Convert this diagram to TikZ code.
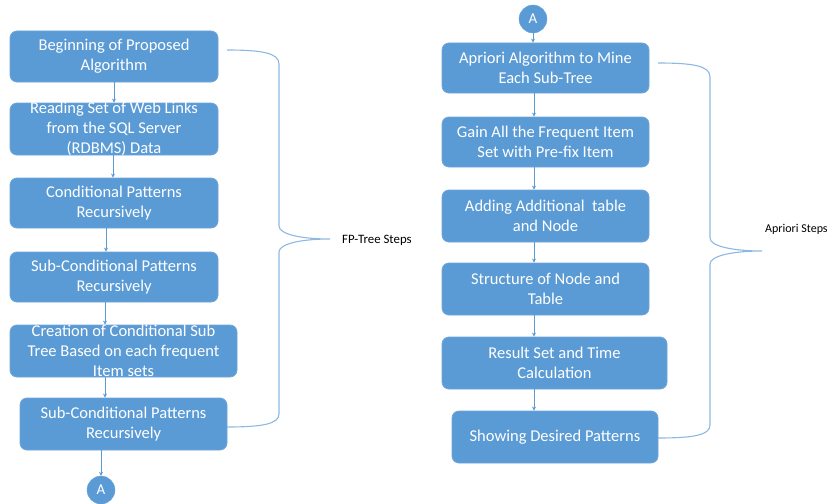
\documentclass[tikz,border=0pt]{standalone}
\usepackage{fontspec}
\setmainfont{Carlito}
\usetikzlibrary{arrows.meta}
\definecolor{boxfill}{HTML}{5B9BD5}
\definecolor{boxline}{HTML}{6FA6DA}
\definecolor{braceblue}{HTML}{8DB8E2}
\definecolor{connblue}{HTML}{5B9BD5}
\tikzset{
  stepbox/.style={draw=boxline, line width=0.8pt, fill=boxfill, rounded corners=7pt, inner sep=0pt},
  steptext/.style={text=white, align=center, font=\fontsize{16.5}{20}\selectfont, inner sep=0pt},
  conn/.style={draw=connblue, line width=0.8pt, -{Stealth[length=4pt,width=4pt]}},
  circ/.style={circle, fill=boxfill, draw=boxline, minimum size=28pt, inner sep=0pt, text=white, font=\fontsize{15}{16}\selectfont},
  brace/.style={draw=braceblue, line width=1.1pt},
  bracelabel/.style={font=\fontsize{12.8}{14}\selectfont, anchor=west, inner sep=0pt}
}
\begin{document}
\begin{tikzpicture}[x=1pt,y=-1pt]
\useasboundingbox (0,0) rectangle (829,503);
% left column
\node[stepbox, minimum width=208pt, minimum height=51pt] (l1) at (114,56.5) {};
\node[steptext] at (l1) {Beginning of Proposed\\Algorithm};
\node[stepbox, minimum width=208pt, minimum height=52pt] (l2) at (114,129) {};
\node[steptext] at (l2) {Reading Set of Web Links\\from the SQL Server\\(RDBMS) Data};
\node[stepbox, minimum width=208pt, minimum height=50pt] (l3) at (114,203) {};
\node[steptext] at (l3) {Conditional Patterns\\Recursively};
\node[stepbox, minimum width=208pt, minimum height=50pt] (l4) at (114,277) {};
\node[steptext] at (l4) {Sub-Conditional Patterns\\Recursively};
\node[stepbox, minimum width=227pt, minimum height=52pt] (l5) at (123.5,351) {};
\node[steptext] at (l5) {Creation of Conditional Sub\\Tree Based on each frequent\\Item sets};
\node[stepbox, minimum width=207pt, minimum height=52pt] (l6) at (123.5,424) {};
\node[steptext] at (l6) {Sub-Conditional Patterns\\Recursively};
\node[circ] (al) at (101,490) {A};
% right column
\node[circ] (ar) at (533,19) {A};
\node[stepbox, minimum width=207pt, minimum height=50pt] (r1) at (545.5,68) {};
\node[steptext] at (r1) {Apriori Algorithm to Mine\\Each Sub-Tree};
\node[stepbox, minimum width=207pt, minimum height=50pt] (r2) at (545.5,142) {};
\node[steptext] at (r2) {Gain All the Frequent Item\\Set with Pre-fix Item};
\node[stepbox, minimum width=207pt, minimum height=52pt] (r3) at (545.5,216) {};
\node[steptext] at (r3) {Adding Additional~~table\\and Node};
\node[stepbox, minimum width=207pt, minimum height=52pt] (r4) at (545.5,289) {};
\node[steptext] at (r4) {Structure of Node and\\Table};
\node[stepbox, minimum width=225pt, minimum height=52pt] (r5) at (554.5,363) {};
\node[steptext] at (r5) {Result Set and Time\\Calculation};
\node[stepbox, minimum width=206pt, minimum height=52pt] (r6) at (555,437) {};
\node[steptext] at (r6) {Showing Desired Patterns};
% connectors left
\draw[conn] (l1.south) -- (l2.north);
\draw[conn] ([xshift=-1pt]l2.south) -- ([xshift=-1pt]l3.north);
\draw[conn] ([xshift=-8pt]l3.south) -- ([xshift=-8pt]l4.north);
\draw[conn] ([xshift=-9pt]l4.south) -- ([xshift=-9pt]l4.south |- l5.north);
\draw[conn] ([xshift=-18.5pt]l5.south) -- ([xshift=-18.5pt]l6.north);
\draw[conn] ([xshift=-22.5pt]l6.south) -- (al.north);
% connectors right
\draw[conn] (ar.south) -- (ar.south |- r1.north);
\draw[conn] ([xshift=-11.5pt]r1.south) -- ([xshift=-11.5pt]r2.north);
\draw[conn] ([xshift=-11.5pt]r2.south) -- ([xshift=-11.5pt]r3.north);
\draw[conn] ([xshift=-11.5pt]r3.south) -- ([xshift=-11.5pt]r4.north);
\draw[conn] ([xshift=-11.5pt]r4.south) -- ([xshift=-11.5pt]r4.south |- r5.north);
\draw[conn] ([xshift=-20.5pt]r5.south) -- ([xshift=-21pt]r6.north);
% braces
\coordinate (fpa) at (227,50);
\coordinate (fpt) at (330,239);
\coordinate (fpb) at (227,427);
\draw[brace] (fpa) .. controls (262,50) and (279,53) .. (279,64) -- (279,226)
  .. controls (279,234) and (300,239) .. (fpt)
  .. controls (300,239) and (279,244) .. (279,252) -- (279,414)
  .. controls (279,424) and (262,427) .. (fpb);
\node[bracelabel] (fpl) at (342,240) {FP-Tree Steps};
\coordinate (apa) at (658,63);
\coordinate (apt) at (762,251);
\coordinate (apb) at (658,438);
\draw[brace] (apa) .. controls (694,63) and (710,66) .. (710,77) -- (710,238)
  .. controls (710,246) and (732,251) .. (apt)
  .. controls (732,251) and (710,256) .. (710,264) -- (710,425)
  .. controls (710,435) and (694,438) .. (apb);
\node[bracelabel, font=\fontsize{12}{14}\selectfont] (apl) at (765,229) {Apriori Steps};
\end{tikzpicture}
\end{document}
